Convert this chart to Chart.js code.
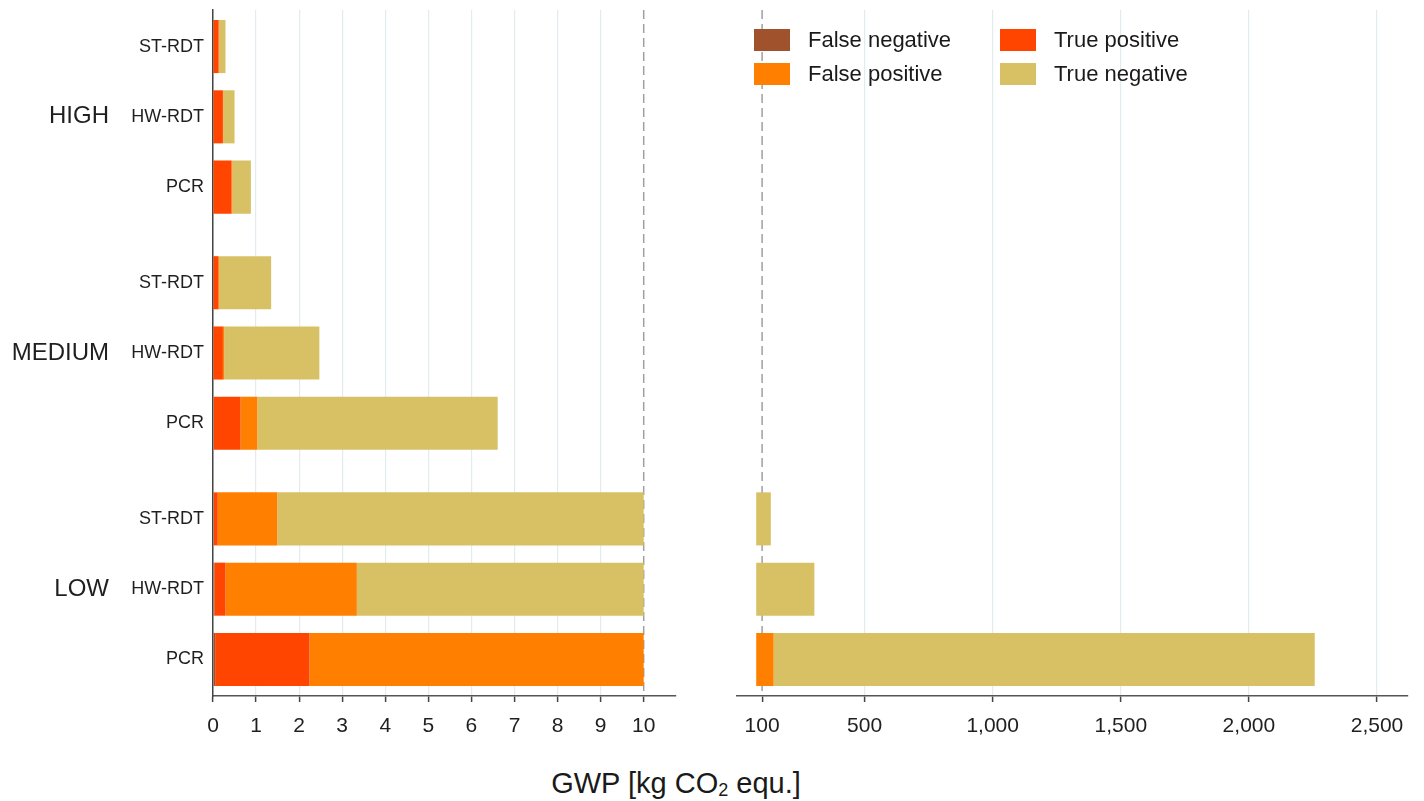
<!DOCTYPE html>
<html>
<head>
<meta charset="utf-8">
<script src="https://cdn.jsdelivr.net/npm/chart.js@4.4.1/dist/chart.umd.min.js"></script>
<style>
  body { margin: 0; background: #fff; font-family: "Liberation Sans", Arial, sans-serif; }
  #wrap { position: relative; width: 1424px; height: 801px; overflow: hidden; }
  #left { position: absolute; left: 0; top: 0; }
  #right { position: absolute; left: 700px; top: 0; }
  #legend { position: absolute; left: 754px; top: 29px; display: grid; grid-template-columns: 246px 220px; row-gap: 12px; }
  .item { display: flex; align-items: center; height: 22px; font-size: 22px; color: #1a1a1a; white-space: nowrap; }
  .item .box { width: 36px; height: 22px; margin-right: 18px; flex: none; }
  #title { position: absolute; left: 0; width: 1352px; top: 767px; text-align: center; font-size: 29px; color: #1a1a1a; }
  #title sub { font-size: 18px; vertical-align: -3px; }
</style>
</head>
<body>
<div id="wrap">
  <canvas id="left" width="700" height="750"></canvas>
  <canvas id="right" width="724" height="750"></canvas>
  <div id="legend"></div>
  <div id="title">GWP [kg CO<sub>2</sub> equ.]</div>
</div>
<script>
// rows top to bottom: HIGH, MEDIUM, LOW x ST-RDT, HW-RDT, PCR
const groups = ['HIGH', 'MEDIUM', 'LOW'];
const tests = ['ST-RDT', 'HW-RDT', 'PCR'];
const seriesNames = ['False negative', 'True positive', 'False positive', 'True negative'];
const seriesColors = ['#a0522d', '#ff4500', '#ff7f00', '#d8c165'];

const falseNegative = [0.01, 0.01, 0.01, 0.01, 0.01, 0.02, 0.02, 0.03, 0.05];
const truePositive  = [0.12, 0.22, 0.42, 0.11, 0.22, 0.62, 0.09, 0.26, 2.19];
const falsePositive = [0.01, 0.01, 0.02, 0.02, 0.03, 0.39, 1.38, 3.05, 142.8];
const trueNegative  = [0.15, 0.26, 0.43, 1.21, 2.21, 5.58, 132.5, 300.7, 2112];

const leftTicks = [0, 1, 2, 3, 4, 5, 6, 7, 8, 9, 10];
const rightTicks = [100, 500, 1000, 1500, 2000, 2500];

const breakValue = 10;   // left panel is cut here
const rightStart = 77;   // bars in the right panel start here
const groupGap = 0.36;

const series = [falseNegative, truePositive, falsePositive, trueNegative];
const FONT = '"Liberation Sans", Arial, sans-serif';
const TXT = '#1f1f1f';

// y position of every row
const rowPos = [];
groups.forEach((g, gi) => tests.forEach((t, ti) => rowPos.push(gi * (tests.length + groupGap) + ti)));
const yMin = -0.52, yMax = rowPos[rowPos.length - 1] + 0.52;

function makeDatasets(panel) {
  return series.map((vals, si) => {
    const data = [];
    vals.forEach((v, r) => {
      let start = 0;
      for (let k = 0; k < si; k++) start += series[k][r];
      const end = start + v;
      if (panel === 'left') {
        if (start < breakValue) data.push({ y: rowPos[r], x: [start, Math.min(end, breakValue)] });
      } else if (end > breakValue && end > rightStart) {
        data.push({ y: rowPos[r], x: [Math.max(start, rightStart), end] });
      }
    });
    return {
      label: seriesNames[si],
      data: data,
      backgroundColor: seriesColors[si],
      borderWidth: 0,
      grouped: false,
      categoryPercentage: 1,
      barPercentage: 0.755
    };
  });
}

// dashed line at the axis break
const breakLine = {
  id: 'breakLine',
  beforeDatasetsDraw(chart, args, opts) {
    const { ctx, chartArea } = chart;
    const x = chart.scales.x.getPixelForValue(opts.value);
    ctx.save();
    ctx.strokeStyle = '#a0a0a0';
    ctx.lineWidth = 1.5;
    ctx.setLineDash([9, 5]);
    ctx.beginPath();
    ctx.moveTo(x, chartArea.top);
    ctx.lineTo(x, chartArea.bottom);
    ctx.stroke();
    ctx.restore();
  }
};

function noPad(s) { s.paddingTop = 0; s.paddingBottom = 0; }

function xAxis(min, max, tickVals, hidden) {
  return {
    type: 'linear',
    min: min,
    max: max,
    afterBuildTicks: s => { s.ticks = tickVals.map(v => ({ value: v })); },
    afterFit: s => { s.height = 54; },
    ticks: {
      autoSkip: false, maxRotation: 0, padding: 12, color: TXT,
      font: { family: FONT, size: 21 },
      callback: v => v.toLocaleString('en-US')
    },
    grid: {
      color: c => (c.tick && c.tick.value === hidden) ? 'rgba(0,0,0,0)' : '#e2ecee',
      lineWidth: 1.2,
      tickColor: '#444',
      tickLength: 6,
      tickWidth: 1.5
    },
    border: { display: true, color: '#555', width: 1.5 }
  };
}

new Chart(document.getElementById('left'), {
  type: 'bar',
  data: { datasets: makeDatasets('left') },
  options: {
    indexAxis: 'y',
    responsive: false,
    animation: false,
    layout: { padding: { top: 10, right: 24, left: 0, bottom: 0 } },
    plugins: { legend: { display: false }, tooltip: { enabled: false }, breakLine: { value: breakValue } },
    scales: {
      x: xAxis(0, 10.75, leftTicks, breakValue),
      y: {
        type: 'linear', reverse: true, min: yMin, max: yMax, offset: false, weight: 0,
        afterBuildTicks: s => { s.ticks = rowPos.map(v => ({ value: v })); },
        afterFit: s => { s.width = 100; noPad(s); },
        ticks: { autoSkip: false, padding: 9, color: TXT, font: { family: FONT, size: 18 },
          callback: (v, i) => tests[i % tests.length] },
        grid: { display: false, drawTicks: false },
        border: { display: true, color: '#444', width: 1.5 }
      },
      group: {
        type: 'linear', axis: 'y', position: 'left', reverse: true, min: yMin, max: yMax, offset: false, weight: 1,
        afterBuildTicks: s => { s.ticks = groups.map((g, gi) => ({ value: rowPos[gi * tests.length + 1] })); },
        afterFit: s => { s.width = 113; noPad(s); },
        ticks: { autoSkip: false, padding: 4, color: TXT, font: { family: FONT, size: 24 },
          callback: (v, i) => groups[i] },
        grid: { display: false, drawTicks: false },
        border: { display: false }
      }
    }
  },
  plugins: [breakLine]
});

new Chart(document.getElementById('right'), {
  type: 'bar',
  data: { datasets: makeDatasets('right') },
  options: {
    indexAxis: 'y',
    responsive: false,
    animation: false,
    layout: { padding: { top: 10, right: 16, left: 37, bottom: 0 } },
    plugins: { legend: { display: false }, tooltip: { enabled: false }, breakLine: { value: 100 } },
    scales: {
      x: xAxis(2, 2621, rightTicks, 100),
      y: {
        type: 'linear', reverse: true, min: yMin, max: yMax, offset: false,
        afterBuildTicks: s => { s.ticks = rowPos.map(v => ({ value: v })); },
        afterFit: s => { s.width = 0; noPad(s); },
        ticks: { display: false },
        grid: { display: false, drawTicks: false },
        border: { display: false }
      }
    }
  },
  plugins: [breakLine]
});

// legend, two columns in row order
const legend = document.getElementById('legend');
seriesNames.forEach((name, i) => {
  const item = document.createElement('div');
  item.className = 'item';
  item.innerHTML = '<span class="box" style="background:' + seriesColors[i] + '"></span>' + name;
  legend.appendChild(item);
});
</script>
</body>
</html>
